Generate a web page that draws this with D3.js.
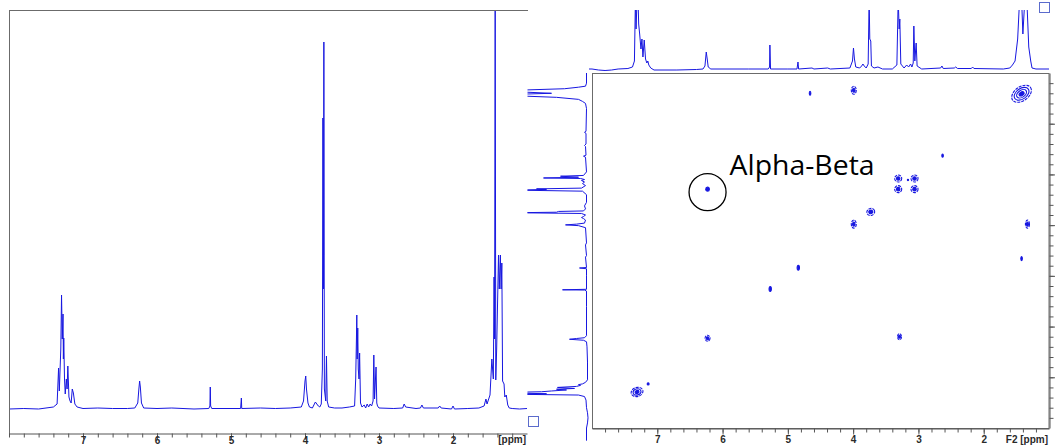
<!DOCTYPE html>
<html><head><meta charset="utf-8">
<script src="https://cdn.jsdelivr.net/npm/d3@7"></script>
<style>html,body{margin:0;padding:0;background:#fff;} svg{display:block}</style>
</head><body>
<svg id="chart" width="1055" height="446"></svg>
<script>
// 1D proton spectrum: [chemical shift (ppm), intensity]
const protonSpectrum = [
  [8.00,0],[7.80,0.5],[7.60,0],[7.50,1],[7.40,2],[7.35,5],[7.33,41],[7.32,18],[7.30,60],[7.29,114],[7.28,70],
  [7.27,95],[7.265,50],[7.26,71],[7.25,30],[7.24,15],[7.225,30],[7.215,20],[7.205,43],[7.19,12],[7.175,8],
  [7.16,6],[7.145,20],[7.13,16],[7.11,5],[7.08,2],[7.00,0.5],[6.80,1],[6.60,0.5],[6.40,0.5],[6.30,1],
  [6.26,6],[6.245,20],[6.235,28],[6.225,22],[6.21,6],[6.18,1],[6.00,0.5],[5.80,1],[5.50,0],[5.30,0.5],
  [5.285,3],[5.28,22],[5.275,3],[5.26,0.5],[5.00,0.5],[4.87,0.5],[4.86,11],[4.855,0.5],[4.60,1],[4.40,0.5],
  [4.20,1],[4.05,2],[4.02,8],[4.00,28],[3.99,33],[3.98,20],[3.96,6],[3.94,2],[3.90,1],[3.88,4],[3.86,7],
  [3.84,5],[3.82,3],[3.80,2],[3.78,5],[3.765,40],[3.758,291],[3.75,120],[3.745,367],[3.738,20],[3.72,8],
  [3.71,53],[3.70,8],[3.68,2],[3.60,1],[3.50,1],[3.40,2],[3.33,3],[3.315,30],[3.305,70],[3.30,94],[3.295,50],
  [3.287,81],[3.28,40],[3.27,30],[3.262,56],[3.25,6],[3.23,2],[3.20,4],[3.18,1],[3.16,5],[3.14,2],[3.12,5],
  [3.10,3],[3.08,8],[3.07,54],[3.06,10],[3.04,42],[3.03,6],[3.02,3],[3.00,1],[2.80,0.5],[2.68,1],[2.66,5],
  [2.64,2],[2.50,0.5],[2.44,1],[2.42,4],[2.40,1],[2.20,1],[2.18,3],[2.16,1],[2.02,0],[2.00,3],[1.98,0],
  [1.80,0.5],[1.65,1],[1.58,3],[1.555,10],[1.54,5],[1.50,14],[1.475,50],[1.455,30],[1.445,132],[1.438,70],
  [1.43,420],[1.422,29],[1.41,60],[1.385,154],[1.375,120],[1.36,154],[1.35,120],[1.34,146],[1.33,28],
  [1.31,25],[1.30,12],[1.28,14],[1.26,4],[1.24,1],[1.20,0.5],[1.10,0],[1.00,0.5]
];

// External projection shown along F2 (top) and F1 (side): [ppm, intensity]
const projection = [
  [8.25,0],[8.00,0],[7.90,-1],[7.80,-1.5],[7.70,-1],[7.60,0],[7.45,0.5],[7.38,2],[7.35,8],[7.335,70],[7.325,40],
  [7.31,70],[7.295,70],[7.285,45],[7.27,35],[7.25,20],[7.235,30],[7.22,12],[7.20,29],[7.18,10],[7.16,6],
  [7.145,8],[7.13,4],[7.10,1],[7.05,-1],[6.70,-1],[6.40,-0.5],[6.30,0],[6.27,3],[6.25,17],[6.235,10],[6.22,2],
  [6.18,0],[5.60,0],[5.30,0],[5.28,2],[5.275,24],[5.265,0],[5.00,0],[4.86,0],[4.845,7],[4.835,0],[4.63,1],
  [4.60,0],[4.39,1],[4.35,0],[4.05,1],[4.01,8],[3.995,21],[3.98,10],[3.96,2],[3.90,1],[3.87,3],[3.85,5],
  [3.83,3],[3.80,1],[3.77,5],[3.755,70],[3.745,30],[3.73,28],[3.72,3],[3.68,1],[3.62,2],[3.55,0],[3.40,0],
  [3.33,4],[3.31,70],[3.295,40],[3.285,50],[3.27,5],[3.22,1],[3.18,4],[3.15,2],[3.12,5],[3.10,2],[3.08,6],
  [3.07,43],[3.055,8],[3.035,26],[3.02,3],[2.95,0],[2.66,1],[2.64,3],[2.62,0.5],[2.45,1],[2.43,2],[2.40,0.5],
  [2.19,0.5],[2.17,2],[2.15,0.5],[1.70,0],[1.60,1],[1.56,4],[1.52,8],[1.48,30],[1.45,70],[1.42,70],[1.40,35],
  [1.37,70],[1.34,70],[1.31,22],[1.28,8],[1.26,1],[1.20,0],[1.00,0]
];

// COSY cross peaks
const peakF2       = [1.42, 7.31, 7.14, 4.66, 3.99, 2.63, 3.31, 3.06, 3.31, 3.06, 3.16, 3.73, 3.99, 1.33, 1.42, 4.84, 5.27, 6.23, 3.29, 6.23];
const peakF1       = [1.41, 7.29, 7.13, 1.40, 1.34, 2.63, 3.08, 3.08, 3.29, 3.29, 3.11, 3.74, 3.98, 3.98, 4.66, 4.84, 5.26, 6.23, 6.20, 3.29];
const peakWidthF2  = [0.168,0.092,0.015,0.012,0.038,0.012,0.054,0.054,0.054,0.054,0.010,0.061,0.038,0.031,0.012,0.018,0.018,0.038,0.031,0.028];
const peakWidthF1  = [0.138,0.089,0.020,0.040,0.079,0.030,0.069,0.069,0.069,0.069,0.012,0.069,0.079,0.079,0.040,0.049,0.049,0.059,0.059,0.039];
const peakLevels   = [4, 3, 1, 1, 2, 1, 2, 2, 2, 2, 1, 2, 2, 2, 1, 1, 1, 2, 2, 1];
const peakTilt     = [-35, -15, 0, 0, 0, 0, 0, 0, 0, 0, 0, -20, 0, 0, 0, 0, 0, 0, 0, 0];

const majorTicks = [7, 6, 5, 4, 3, 2];
const annotatedPeak = 19;            // index of the labelled cross peak
const annotationText = "Alpha-Beta";

const BLUE = "#1717e0";
const FRAME = "#6b6b6b";
const svg = d3.select("#chart");
const defs = svg.append("defs");
const fmt = d3.format("d");

function minorTicks(lo, hi) {
  return d3.range(Math.round(lo * 5), Math.round(hi * 5) + 1).map(v => v / 5);
}

// ---------- Left panel: 1D spectrum ----------
const xL = d3.scaleLinear().domain([8, 1]).range([9, 527]);
const yL = d3.scaleLinear().domain([0, 399]).range([409, 10]);

defs.append("clipPath").attr("id", "clipL")
  .append("rect").attr("x", 9).attr("y", 10).attr("width", 519).attr("height", 420);

svg.append("path")
  .datum(protonSpectrum)
  .attr("clip-path", "url(#clipL)")
  .attr("fill", "none").attr("stroke", BLUE).attr("stroke-width", 1)
  .attr("d", d3.line().x(d => xL(d[0])).y(d => yL(d[1])));

svg.append("line").attr("x1", 9).attr("x2", 528).attr("y1", 10.5).attr("y2", 10.5)
  .attr("stroke", FRAME);
svg.append("line").attr("x1", 9.5).attr("x2", 9.5).attr("y1", 10).attr("y2", 434)
  .attr("stroke", FRAME);

const axL = svg.append("g").attr("transform", "translate(0,433.5)");
axL.append("g").call(d3.axisBottom(xL).tickValues(minorTicks(1.2, 8)).tickSize(4).tickFormat(""))
  .call(g => g.select(".domain").remove());
axL.append("g").call(d3.axisBottom(xL).tickValues(majorTicks).tickSize(6).tickPadding(-3)
  .tickFormat(fmt).tickSizeOuter(0));
axL.append("text").attr("class", "unit").attr("x", 526).attr("y", 9.5).attr("text-anchor", "end").text("[ppm]");

// ---------- Right panel: 2D COSY ----------
const x2 = d3.scaleLinear().domain([8, 1]).range([592, 1049]);
const y2 = d3.scaleLinear().domain([1, 8]).range([73, 428]);

svg.append("rect").attr("x", 592.5).attr("y", 73.5).attr("width", 456.5).attr("height", 355)
  .attr("fill", "none").attr("stroke", FRAME);

const axB = svg.append("g").attr("transform", "translate(0,428.5)");
axB.append("g").call(d3.axisBottom(x2).tickValues(minorTicks(1.2, 7.8)).tickSize(4).tickFormat(""))
  .call(g => g.select(".domain").remove());
axB.append("g").call(d3.axisBottom(x2).tickValues(majorTicks).tickSize(6).tickPadding(1)
  .tickFormat(fmt).tickSizeOuter(0));
axB.append("text").attr("class", "unit").attr("x", 1048).attr("y", 14.5).attr("text-anchor", "end").text("F2 [ppm]");

const axR = svg.append("g").attr("transform", "translate(1049.5,0)");
axR.append("g").call(d3.axisRight(y2).tickValues(minorTicks(1.2, 7.8)).tickSize(4).tickFormat(""))
  .call(g => g.select(".domain").remove());
axR.append("g").call(d3.axisRight(y2).tickValues(majorTicks).tickSize(6).tickFormat("").tickSizeOuter(0));

svg.selectAll(".tick line, .domain").attr("stroke", "#555");
svg.selectAll("text").attr("font-family", "Liberation Sans, Arial, sans-serif")
  .attr("font-size", 10).attr("font-weight", "bold").attr("fill", "#2a2a2a");

// Top (F2) projection
const yTop = d3.scaleLinear().domain([0, 59]).range([69, 10]);
defs.append("clipPath").attr("id", "clipTop")
  .append("rect").attr("x", 589).attr("y", 10).attr("width", 461).attr("height", 62);
svg.append("path")
  .datum(projection)
  .attr("clip-path", "url(#clipTop)")
  .attr("fill", "none").attr("stroke", BLUE).attr("stroke-width", 1)
  .attr("d", d3.line().x(d => x2(d[0])).y(d => yTop(d[1])));

// Side (F1) projection
const xSide = d3.scaleLinear().domain([0, 59]).range([586.5, 527.5]);
defs.append("clipPath").attr("id", "clipSide")
  .append("rect").attr("x", 527.5).attr("y", 72).attr("width", 63).attr("height", 372);
svg.append("path")
  .datum(projection)
  .attr("clip-path", "url(#clipSide)")
  .attr("fill", "none").attr("stroke", BLUE).attr("stroke-width", 1)
  .attr("d", d3.line().x(d => xSide(d[1])).y(d => y2(d[0])));

// Cross peak contours
const kx = Math.abs(x2(0) - x2(1)), ky = Math.abs(y2(1) - y2(0));
const contours = svg.append("g");
peakF2.forEach((f2, i) => {
  const g = contours.append("g")
    .attr("transform", `translate(${x2(f2)},${y2(peakF1[i])}) rotate(${peakTilt[i]})`);
  const n = peakLevels[i];
  for (let k = n; k >= 1; k--) {
    g.append("ellipse")
      .attr("rx", Math.max(0.6, peakWidthF2[i] * kx * k / n))
      .attr("ry", Math.max(0.6, peakWidthF1[i] * ky * k / n))
      .attr("fill", k === 1 ? BLUE : "none")
      .attr("stroke", BLUE).attr("stroke-width", 1.1)
      .attr("stroke-dasharray", n > 1 && k === n ? "3 1" : null);
  }
});

// Annotation of the alpha-beta coupling
const cx = x2(peakF2[annotatedPeak]), cy = y2(peakF1[annotatedPeak]) + 3;
svg.append("circle").attr("cx", cx).attr("cy", cy).attr("r", 18.5)
  .attr("fill", "none").attr("stroke", "#000").attr("stroke-width", 1.3);
svg.append("text").attr("x", cx + 22).attr("y", cy - 17)
  .attr("font-family", "Open Sans, Noto Sans, sans-serif").attr("font-size", 28)
  .attr("textLength", 145).attr("lengthAdjust", "spacingAndGlyphs")
  .attr("fill", "#000").text(annotationText);

// Small view markers
svg.append("rect").attr("x", 528.5).attr("y", 416.5).attr("width", 10).attr("height", 10)
  .attr("fill", "none").attr("stroke", "#5b6bcc");
svg.append("rect").attr("x", 1039.5).attr("y", 2.5).attr("width", 10).attr("height", 10)
  .attr("fill", "none").attr("stroke", "#5b6bcc");
</script>
</body></html>
